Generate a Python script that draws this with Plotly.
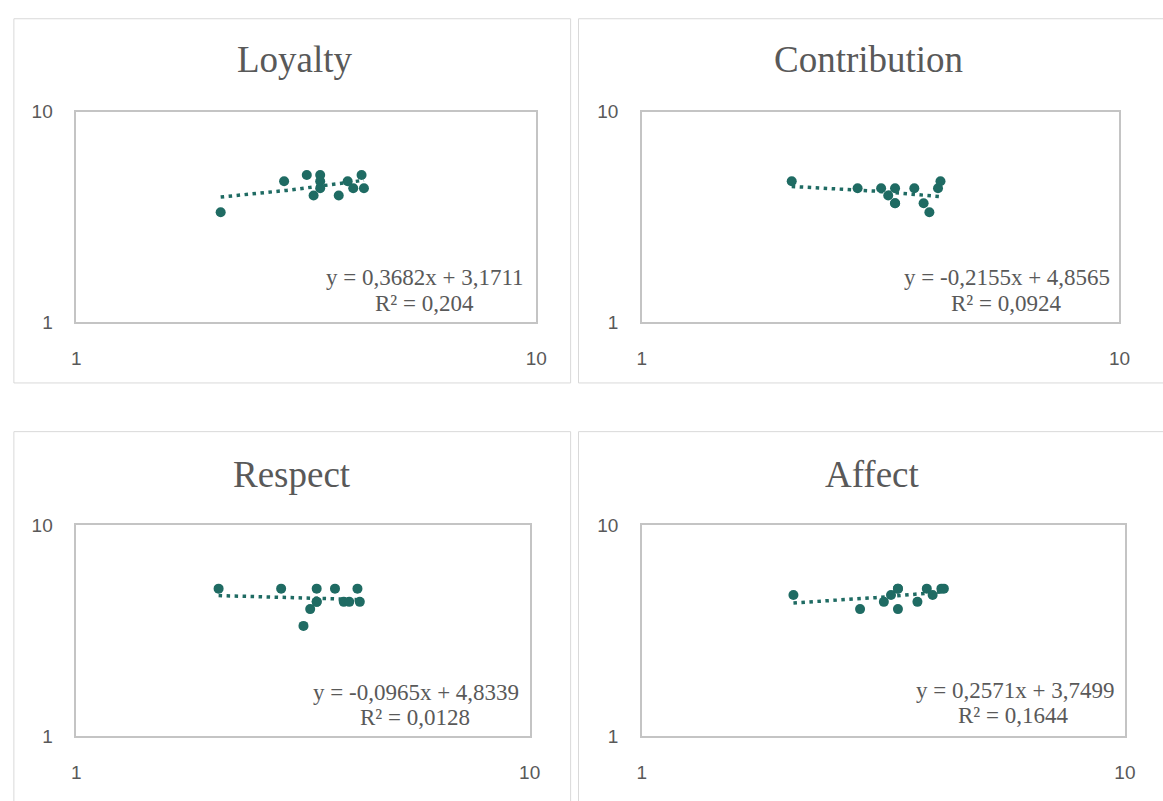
import numpy as np
import plotly.graph_objects as go

W, H = 1163, 801

# ---- data ----
x_scores = [2.06, 2.83, 3.17, 3.28, 3.39, 3.39, 3.39, 3.72, 3.89, 4.00, 4.17, 4.22]
loyalty = [3.33, 4.67, 5.00, 4.00, 5.00, 4.67, 4.33, 4.00, 4.67, 4.33, 5.00, 4.33]
contribution = [4.67, 4.33, 4.33, 4.00, 4.33, 3.67, 3.67, 4.33, 3.67, 3.33, 4.33, 4.67]
respect = [5.00, 5.00, 3.33, 4.00, 5.00, 4.33, 4.33, 5.00, 4.33, 4.33, 5.00, 4.33]
affect = [4.67, 4.00, 4.33, 4.67, 5.00, 4.00, 5.00, 4.33, 5.00, 4.67, 5.00, 5.00]

titles = ["Loyalty", "Contribution", "Respect", "Affect"]
series = [loyalty, contribution, respect, affect]
slopes = [0.3682, -0.2155, -0.0965, 0.2571]
intercepts = [3.1711, 4.8565, 4.8339, 3.7499]
r_squared = [0.204, 0.0924, 0.0128, 0.1644]
tick_vals = [1, 10]
tick_text = ["1", "10"]

# ---- layout geometry (pixels of the 1163x801 picture) ----
plot_boxes = [  # left, right, top, bottom
    (72.3, 538.7, 104.3, 320.7),
    (645.7, 1130.0, 104.3, 320.7),
    (72.3, 532.0, 529.0, 745.7),
    (645.7, 1135.5, 529.0, 745.7),
]
panels = [  # left, right, top, bottom
    (9, 573.5, 9, 383),
    (581.5, 1175, 9, 383),
    (9, 573.5, 433, 815),
    (581.5, 1175, 433, 815),
]
title_pos = [(294.5, 50.5), (875.5, 50.5), (291.5, 476.7), (880, 477)]
eq1_pos = [(528, 275), (1122.5, 275), (523, 700.5), (1126, 699.2)]
eq2_pos = [(425.5, 301.5), (1015, 301.5), (415.8, 726.5), (1022.5, 724)]

COLOR = "#1f6b63"
GREY = "#595959"
SERIF = "Liberation Serif, Times New Roman, serif"

def px(x):
    return x / W

def py(y):
    return 1 - y / H

def fmt(v):
    return f"{v:.4f}".replace(".", ",")

fig = go.Figure()
layout = dict(
    width=W, height=H, autosize=False,
    margin=dict(l=0, r=0, t=0, b=0, pad=0),
    paper_bgcolor="white", plot_bgcolor="white",
    showlegend=False,
    shapes=[], annotations=[],
)

for i, (name, ys) in enumerate(zip(titles, series)):
    n = "" if i == 0 else str(i + 1)
    xa, ya = "x" + n, "y" + n
    fig.add_trace(go.Scatter(
        x=x_scores, y=ys, mode="markers", xaxis=xa, yaxis=ya,
        marker=dict(color=COLOR, size=10, line=dict(width=0)),
        name=name,
    ))
    xs = np.linspace(min(x_scores), max(x_scores), 60)
    fig.add_trace(go.Scatter(
        x=xs, y=slopes[i] * xs + intercepts[i], mode="lines",
        xaxis=xa, yaxis=ya,
        line=dict(color=COLOR, width=3.5, dash="3.5px,4.5px"),
        hoverinfo="skip",
    ))
    l, r, t, b = plot_boxes[i]
    axis_common = dict(
        type="log", range=[0, 1], tickvals=tick_vals, ticktext=tick_text,
        showgrid=False, zeroline=False, showline=True, mirror=True,
        linecolor="#c4c4c4", linewidth=1.5, ticks="",
        tickfont=dict(family="Liberation Sans, Arial, sans-serif", size=19, color=GREY),
        ticklabelstandoff=18,
    )
    layout["xaxis" + n] = dict(axis_common, domain=[px(l), px(r)], anchor=ya)
    layout["yaxis" + n] = dict(axis_common, domain=[py(b), py(t)], anchor=xa)

    pl, pr, pt, pb = panels[i]
    layout["shapes"].append(dict(
        type="rect", xref="paper", yref="paper",
        x0=px(pl), x1=px(pr), y0=py(pb), y1=py(pt),
        line=dict(color="#d9d9d9", width=1), fillcolor="rgba(0,0,0,0)", layer="below",
    ))
    tx, ty = title_pos[i]
    layout["annotations"].append(dict(
        text=name, xref="paper", yref="paper", x=px(tx), y=py(ty),
        xanchor="center", yanchor="middle", showarrow=False,
        font=dict(family=SERIF, size=37, color=GREY),
    ))
    e1x, e1y = eq1_pos[i]
    layout["annotations"].append(dict(
        text=f"y = {fmt(slopes[i])}x + {fmt(intercepts[i])}",
        xref="paper", yref="paper", x=px(e1x), y=py(e1y),
        xanchor="right", yanchor="middle", showarrow=False,
        font=dict(family=SERIF, size=23, color=GREY),
    ))
    e2x, e2y = eq2_pos[i]
    layout["annotations"].append(dict(
        text=f"R² = {r_squared[i]:g}".replace(".", ","),
        xref="paper", yref="paper", x=px(e2x), y=py(e2y),
        xanchor="center", yanchor="middle", showarrow=False,
        font=dict(family=SERIF, size=23, color=GREY),
    ))

fig.update_layout(**layout)
fig.write_html(
    "out.html",
    config={"responsive": False, "displayModeBar": False},
    post_script="document.body.style.margin='0px';document.body.style.overflow='hidden';",
)
